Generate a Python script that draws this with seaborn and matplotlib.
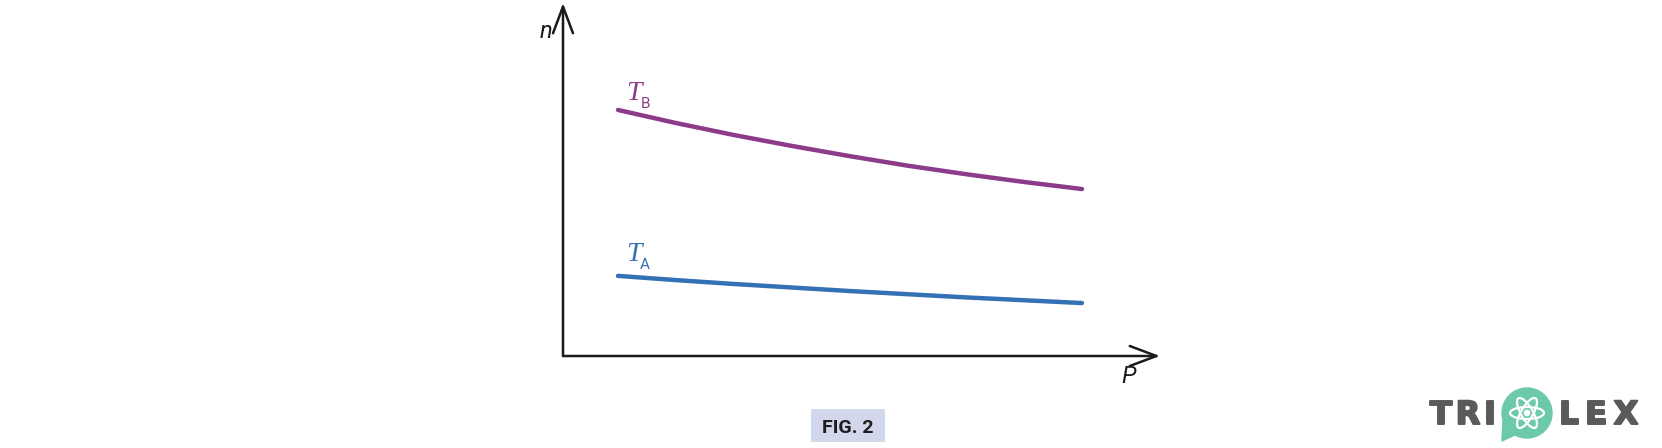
import numpy as np
import pandas as pd
import matplotlib
matplotlib.use("Agg")
import matplotlib.pyplot as plt
import matplotlib.patheffects as pe
from matplotlib.patches import Rectangle, Circle, Ellipse, Polygon
import seaborn as sns

# curve data
pressure = [1, 2, 3, 4, 5, 6, 7, 8, 9]
n_TB = [6.97, 6.60, 6.26, 5.95, 5.66, 5.39, 5.15, 4.93, 4.73]
n_TA = [2.27, 2.15, 2.04, 1.94, 1.84, 1.75, 1.66, 1.58, 1.50]
series_names = ["T_B", "T_A"]
series_colors = ["#8c3a8a", "#3470b4"]
logo_letters = ["T", "R", "I", "L", "E", "X"]

W, H = 1662, 448


def fx(px):
    return px / W


def fy(py):
    return 1 - py / H


def main():
    sns.set_style("white")
    fig = plt.figure(figsize=(W / 100, H / 100), dpi=100)

    # axes box: origin at (563, 356) px, arrow tips at x=1160 and y=3
    ax = fig.add_axes([fx(563), fy(356), (1160 - 563) / W, (356 - 3) / H])
    x0, x1 = 1 - 55 / 58, 1 + (1160 - 618) / 58
    y0, y1 = 0, 10
    ax.set_xlim(x0, x1)
    ax.set_ylim(y0, y1)
    ax.axis("off")

    df = pd.DataFrame({
        "P": pressure * 2,
        "n": n_TB + n_TA,
        "series": [series_names[0]] * len(pressure) + [series_names[1]] * len(pressure),
    })
    sns.lineplot(data=df, x="P", y="n", hue="series", palette=series_colors,
                 linewidth=3.2, legend=False, ax=ax, sort=False)
    for line in ax.lines:
        line.set_solid_capstyle("round")
        line.set_solid_joinstyle("round")

    arrow = dict(arrowstyle="->,head_length=1.2,head_width=0.45", color="#1a1a1a",
                 lw=1.8, shrinkA=0, shrinkB=0, mutation_scale=16)
    ax.annotate("", xy=(x1, y0), xytext=(x0, y0), arrowprops=arrow, annotation_clip=False)
    ax.annotate("", xy=(x0, y1), xytext=(x0, y0), arrowprops=arrow, annotation_clip=False)

    # axis labels
    fig.text(fx(546), fy(38), "n", fontsize=17, style="italic", family="Roboto",
             color="#1a1a1a", ha="center", va="baseline")
    fig.text(fx(1129), fy(383), "P", fontsize=17, style="italic", family="Roboto",
             color="#1a1a1a", ha="center", va="baseline")

    # curve labels
    for (tb, sb), name, col in zip([(100, 108), (261, 269)], ["B", "A"], series_colors):
        fig.text(fx(634), fy(tb), "T", fontsize=20, style="italic",
                 family="Liberation Serif", color=col, ha="center", va="baseline")
        fig.text(fx(645), fy(sb), name, fontsize=11, family="Roboto",
                 color=col, ha="center", va="baseline")

    # caption
    fig.patches.append(Rectangle((fx(811), fy(442)), (885 - 811) / W, (442 - 409) / H,
                                 transform=fig.transFigure, facecolor="#d3d7eb",
                                 edgecolor="none"))
    fig.text(fx(848), fy(433), "FIG. 2", fontsize=14, fontweight="bold", family="Roboto",
             color="#1e1e1e", ha="center", va="baseline")

    # logo
    gray = "#5a5a5a"
    green = "#6ccaa8"
    for ch, cx in zip(logo_letters, [1441, 1468, 1490, 1569, 1596, 1626]):
        fig.text(fx(cx), fy(424), ch, fontsize=23, fontweight="bold", family="DejaVu Sans",
                 color=gray, ha="center", va="baseline",
                 path_effects=[pe.withStroke(linewidth=1.4, foreground=gray)])
    lax = fig.add_axes([fx(1499), fy(442), 56 / W, 56 / H])
    lax.set_xlim(-28, 28)
    lax.set_ylim(-28, 28)
    lax.set_aspect("equal")
    lax.axis("off")
    lax.add_patch(Circle((0, 1), 25, color=green))
    lax.add_patch(Polygon([[-24, -6], [-25, -27], [-10, -20]], closed=True, color=green))
    for ang in (0, 60, 120):
        lax.add_patch(Ellipse((0, 1), 34, 12, angle=ang, fill=False, edgecolor="white", lw=1.6))
    lax.add_patch(Circle((0, 1), 2.6, color="white"))

    fig.savefig("out.png", dpi=100)


if __name__ == "__main__":
    main()
